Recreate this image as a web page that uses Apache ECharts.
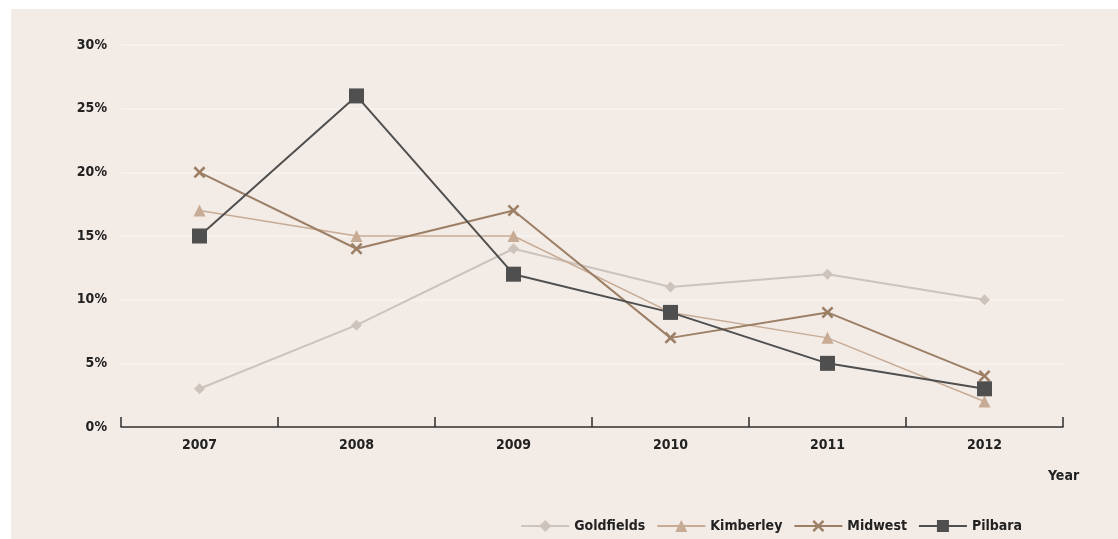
<!DOCTYPE html>
<html>
<head>
<meta charset="utf-8">
<script src="https://cdn.jsdelivr.net/npm/echarts@6/dist/echarts.min.js"></script>
<style>
  html, body { margin: 0; padding: 0; background: #fff; }
  #chart { width: 1118px; height: 539px; }
</style>
</head>
<body>
<div id="chart"></div>
<script>
// 数据
const years = ['2007', '2008', '2009', '2010', '2011', '2012'];
const goldfields = [3, 8, 14, 11, 12, 10];
const kimberley = [17, 15, 15, 9, 7, 2];
const midwest = [20, 14, 17, 7, 9, 4];
const pilbara = [15, 26, 12, 9, 5, 3];

const FONT = '"Liberation Sans Narrow", "DejaVu Sans Condensed", sans-serif';
// 叉形标记
const crossPath = 'path://M1.5,0L5,3.5L8.5,0L10,1.5L6.5,5L10,8.5L8.5,10L5,6.5L1.5,10L0,8.5L3.5,5L0,1.5Z';

let chart = echarts.init(document.getElementById('chart'));

function makeSeries(name, data, color, symbol, size, width) {
  return {
    name: name,
    type: 'line',
    data: data,
    symbol: symbol,
    symbolSize: size,
    showAllSymbol: true,
    lineStyle: {color: color, width: width},
    itemStyle: {color: color},
    emphasis: {disabled: true}
  };
}

chart.setOption({
  backgroundColor: '#ffffff',
  animation: false,
  textStyle: {fontFamily: FONT},
  graphic: [{
    type: 'rect',
    z: -100,
    shape: {x: 11, y: 9, width: 1107, height: 530},
    style: {fill: '#f3ebe6'}
  }, {
    type: 'text',
    left: 1048,
    top: 469,
    style: {text: 'Year', fill: '#222', font: 'bold 14px ' + FONT}
  }],
  grid: {left: 121, right: 55, top: 45, bottom: 112},
  legend: {
    right: 91,
    top: 514,
    itemWidth: 48,
    itemHeight: 15,
    itemGap: 11,
    textStyle: {fontFamily: FONT, fontSize: 14, fontWeight: 'bold', color: '#222'},
    data: ['Goldfields', 'Kimberley', 'Midwest', 'Pilbara']
  },
  xAxis: {
    type: 'category',
    data: years,
    boundaryGap: true,
    axisLine: {show: true, lineStyle: {color: '#2e2e2e', width: 1.5}},
    axisTick: {show: true, inside: true, length: 10, interval: 0, lineStyle: {color: '#2e2e2e', width: 1.5}},
    axisLabel: {color: '#222', fontSize: 14, fontWeight: 'bold', margin: 11},
    splitLine: {show: false}
  },
  yAxis: {
    type: 'value',
    min: 0,
    max: 30,
    interval: 5,
    axisLine: {show: false},
    axisTick: {show: false},
    axisLabel: {formatter: '{value}%', color: '#222', fontSize: 14, fontWeight: 'bold', margin: 14},
    splitLine: {lineStyle: {color: '#f7f2ee', width: 2}}
  },
  series: [
    makeSeries('Goldfields', goldfields, '#cbc3bc', 'diamond', 11, 2),
    makeSeries('Kimberley', kimberley, '#c7ab94', 'triangle', 12, 1.5),
    makeSeries('Midwest', midwest, '#9c7f65', crossPath, 12, 2),
    makeSeries('Pilbara', pilbara, '#4f4f4f', 'rect', 15, 2)
  ]
});
</script>
</body>
</html>
